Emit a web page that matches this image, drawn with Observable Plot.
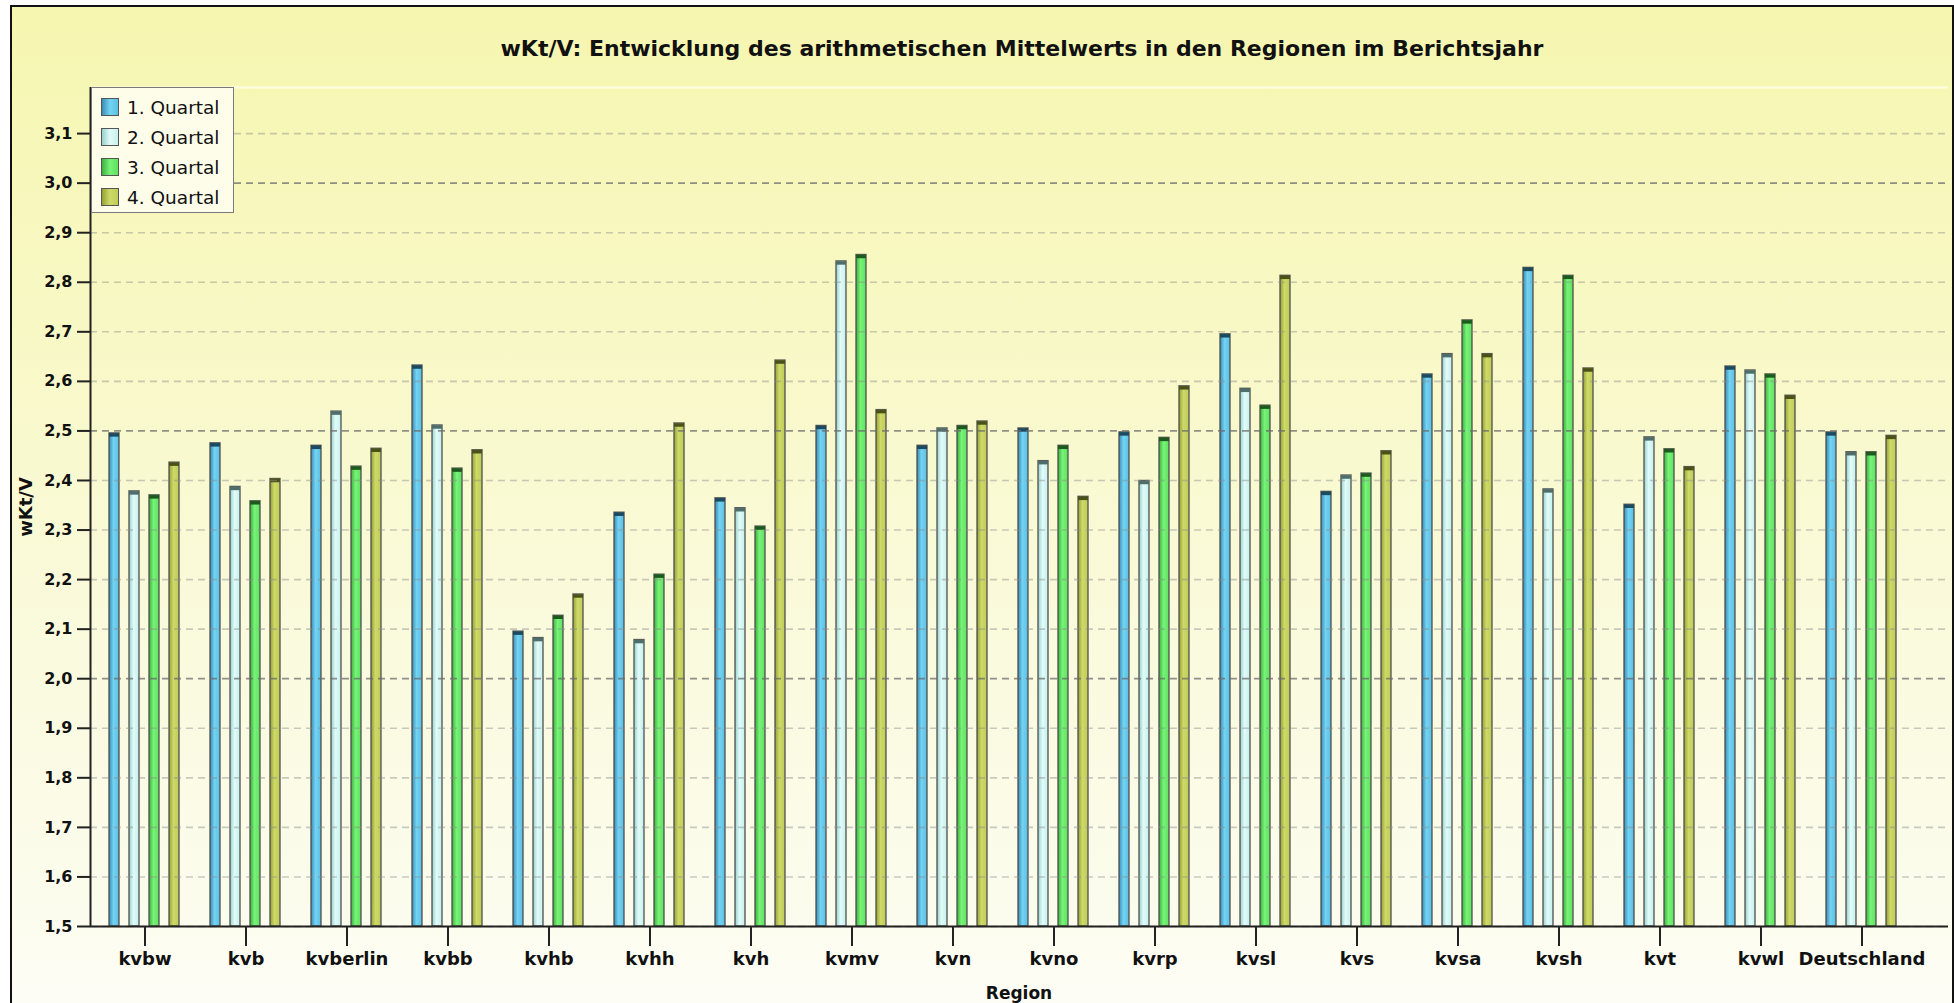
<!DOCTYPE html>
<html>
<head>
<meta charset="utf-8">
<script src="https://cdn.jsdelivr.net/npm/d3@7"></script>
<script src="https://cdn.jsdelivr.net/npm/@observablehq/plot@0.6"></script>
<style>
  html, body { margin: 0; padding: 0; background: #ffffff; width: 1954px; height: 1003px; overflow: hidden; }
  #frame { position: absolute; left: 10px; top: 5px; width: 1940px; height: 1010px; border: 2px solid #111;
           background: linear-gradient(to bottom, #f6f6b0 0%, #f8f8c4 30%, #fafadc 60%, #fcfcee 90%, #fefef8 100%); }
  #title { position: absolute; top: 36px; left: 1022px; transform: translateX(-50%); white-space: nowrap;
           font: bold 22px "DejaVu Sans", sans-serif; color: #111; }
  .layer { position: absolute; left: 0; top: 0; }
  #ylabel { position: absolute; left: 25px; top: 507px; transform: translate(-50%, -50%) rotate(-90deg);
            font: bold 18px "DejaVu Sans", sans-serif; color: #111; white-space: nowrap; }
  #xlabel { position: absolute; left: 1019px; top: 993px; transform: translate(-50%, -50%);
            font: bold 17px "DejaVu Sans", sans-serif; color: #111; white-space: nowrap; }
  #legend { position: absolute; left: 91px; top: 87px; width: 143px; height: 126px; box-sizing: border-box;
            border: 1.5px solid #7a7a7a; background: #fdfdea; padding: 4px 0 0 9px; }
  .item { height: 30px; display: flex; align-items: center; font: 18.5px "DejaVu Sans", sans-serif; color: #111; }
  .sw { width: 18px; height: 18px; box-sizing: border-box; border: 1.5px solid #555; margin-right: 8px; }
</style>
</head>
<body>
<div id="frame"></div>
<div id="title">wKt/V: Entwicklung des arithmetischen Mittelwerts in den Regionen im Berichtsjahr</div>
<div id="bars" class="layer"></div>
<div id="grid" class="layer"></div>
<div id="legend"></div>
<div id="ylabel">wKt/V</div>
<div id="xlabel">Region</div>
<script>
// ---- data ----
const regions = ["kvbw","kvb","kvberlin","kvbb","kvhb","kvhh","kvh","kvmv","kvn","kvno","kvrp","kvsl","kvs","kvsa","kvsh","kvt","kvwl","Deutschland"];
const quarters = ["1. Quartal","2. Quartal","3. Quartal","4. Quartal"];
const q1 = [2.495,2.475,2.470,2.632,2.095,2.335,2.364,2.510,2.470,2.505,2.497,2.695,2.377,2.614,2.829,2.351,2.630,2.497];
const q2 = [2.378,2.387,2.539,2.511,2.082,2.078,2.344,2.842,2.505,2.439,2.399,2.585,2.410,2.655,2.382,2.487,2.622,2.457];
const q3 = [2.370,2.358,2.428,2.424,2.127,2.210,2.307,2.855,2.510,2.470,2.486,2.551,2.414,2.723,2.813,2.463,2.614,2.457];
const q4 = [2.436,2.403,2.464,2.461,2.170,2.515,2.642,2.542,2.519,2.367,2.590,2.813,2.459,2.655,2.626,2.427,2.571,2.490];
const yTicks = [1.5,1.6,1.7,1.8,1.9,2.0,2.1,2.2,2.3,2.4,2.5,2.6,2.7,2.8,2.9,3.0,3.1];
const majorTicks = [2.0,2.5,3.0];
const yDomain = [1.5, 3.193];

// styles
const baseColors  = ["#5bbfe3","#c6f0ec","#5ee25e","#bfcc58"];
const darkColors  = ["#3a8db6","#98d0cc","#3cb23c","#95a236"];
const lightColors = ["#74d3f2","#e0fbf8","#78f278","#ced968"];
const capColors   = ["#1c4a5e","#4d6e6b","#1d5a1d","#4b5218"];

const series = [q1, q2, q3, q4];
const data = [];
regions.forEach((r, i) => quarters.forEach((q, j) => data.push({region: r, quarter: q, qi: j, value: series[j][i]})));

const W = 1954, H = 1003;
const mTop = 87, mBottom = 77, mLeft = 90;
const fmt = d => d.toFixed(1).replace(".", ",");

// ---- bars layer (faceted by region) ----
const fg = Plot.plot({
  width: W, height: H,
  marginLeft: mLeft, marginRight: 39, marginTop: mTop, marginBottom: mBottom,
  style: {background: "transparent", fontFamily: "DejaVu Sans, sans-serif", overflow: "visible"},
  fx: {domain: regions, paddingInner: 0, paddingOuter: 0, label: null},
  x: {domain: quarters, paddingInner: 0.49, paddingOuter: 0.7, axis: null},
  y: {domain: yDomain, clamp: true, axis: null},
  marks: [
    Plot.barY(data, {fx: "region", x: "quarter", y: "value",
      fill: {value: d => `url(#gq${d.qi})`, scale: null},
      stroke: "#4a4a4a", strokeWidth: 1.4, strokeOpacity: 0.9}),
    Plot.tickY(data, {fx: "region", x: "quarter", y: "value", dy: 1.5,
      stroke: {value: d => capColors[d.qi], scale: null}, strokeWidth: 3.5}),
    Plot.axisFx({anchor: "bottom", tickSize: 20, tickPadding: 6, fontSize: 18, fontWeight: "bold",
      stroke: "#222", strokeWidth: 2, fill: "#111", label: null})
  ]
});
// gradient defs for bars
const svgFg = d3.select(fg.tagName.toLowerCase() === "svg" ? fg : fg.querySelector("svg"));
const defs = svgFg.insert("defs", ":first-child");
baseColors.forEach((c, i) => {
  const g = defs.append("linearGradient").attr("id", `gq${i}`).attr("x1", 0).attr("x2", 1).attr("y1", 0).attr("y2", 0);
  g.append("stop").attr("offset", "0%").attr("stop-color", darkColors[i]);
  g.append("stop").attr("offset", "45%").attr("stop-color", lightColors[i]);
  g.append("stop").attr("offset", "100%").attr("stop-color", c);
});
document.getElementById("bars").appendChild(fg);

// ---- grid + axes layer ----
const bg = Plot.plot({
  width: W, height: H,
  marginLeft: mLeft, marginRight: 6, marginTop: mTop, marginBottom: mBottom,
  style: {background: "transparent", fontFamily: "DejaVu Sans, sans-serif", overflow: "visible"},
  x: {domain: [0, 1], axis: null},
  y: {domain: yDomain, axis: null},
  marks: [
    Plot.ruleY([yDomain[1]], {stroke: "#fdfde6", strokeWidth: 2}),
    Plot.ruleY(yTicks.filter(t => !majorTicks.includes(t)), {stroke: "#8c8c8c", strokeOpacity: 0.45, strokeDasharray: "7,5", strokeWidth: 1.6}),
    Plot.ruleY(majorTicks, {stroke: "#6c6c6c", strokeOpacity: 0.75, strokeDasharray: "7,5", strokeWidth: 1.8}),
    Plot.axisY({ticks: yTicks, tickSize: 13, tickPadding: 5, tickFormat: fmt, fontSize: 16, fontWeight: "bold",
      stroke: "#222", strokeWidth: 2, fill: "#111", label: null}),
    Plot.ruleY([yDomain[0]], {stroke: "#222", strokeWidth: 2}),
    Plot.ruleX([0], {stroke: "#222", strokeWidth: 2})
  ]
});
document.getElementById("grid").appendChild(bg);

// ---- legend ----
const leg = d3.select("#legend");
quarters.forEach((q, i) => {
  const it = leg.append("div").attr("class", "item");
  it.append("div").attr("class", "sw")
    .style("background", `linear-gradient(to right, ${darkColors[i]}, ${lightColors[i]} 50%, ${baseColors[i]})`);
  it.append("span").text(q);
});
</script>
</body>
</html>
